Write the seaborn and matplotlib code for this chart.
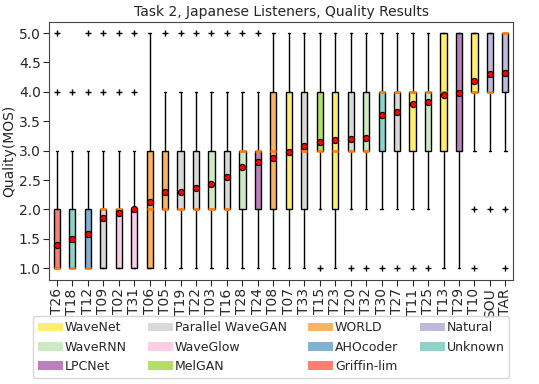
import matplotlib
matplotlib.use('Agg')
import matplotlib.pyplot as plt
from matplotlib.patches import Patch
import seaborn as sns

# Per-system listening test results (MOS, 1-5 scale)
systems = ['T26', 'T18', 'T12', 'T09', 'T02', 'T31', 'T06', 'T05', 'T19', 'T22',
           'T03', 'T16', 'T28', 'T24', 'T08', 'T07', 'T33', 'T15', 'T23', 'T20',
           'T32', 'T30', 'T27', 'T11', 'T25', 'T13', 'T29', 'T10', 'SOU', 'TAR']
vocoder = ['Griffin-lim', 'Unknown', 'AHOcoder', 'Parallel WaveGAN', 'WaveGlow', 'WaveGlow',
           'WORLD', 'WORLD', 'Parallel WaveGAN', 'Parallel WaveGAN', 'WaveRNN',
           'Parallel WaveGAN', 'WaveRNN', 'LPCNet', 'WORLD', 'WaveNet', 'Parallel WaveGAN',
           'MelGAN', 'WaveNet', 'Parallel WaveGAN', 'WaveRNN', 'Unknown', 'Parallel WaveGAN',
           'WaveNet', 'WaveRNN', 'WaveNet', 'LPCNet', 'WaveNet', 'Natural', 'Natural']
q1 = [1, 1, 1, 1, 1, 1, 1, 2, 2, 2, 2, 2, 2, 2, 2, 2, 2, 3, 2, 3, 3, 3, 3, 3, 3, 3, 3, 4, 4, 4]
median = [1, 1, 1, 2, 2, 2, 2, 2, 2, 2, 2, 2, 3, 3, 3, 3, 3, 3, 3, 3, 3, 4, 4, 4, 4, 4, 4, 4, 4, 5]
q3 = [2, 2, 2, 2, 2, 2, 3, 3, 3, 3, 3, 3, 3, 3, 4, 4, 4, 4, 4, 4, 4, 4, 4, 4, 4, 5, 5, 5, 5, 5]
whislo = [1, 1, 1, 1, 1, 1, 1, 1, 1, 1, 1, 1, 1, 1, 1, 1, 1, 2, 1, 2, 2, 2, 2, 2, 2, 1, 1, 3, 3, 3]
whishi = [3, 3, 3, 3, 3, 3, 5, 4, 4, 4, 4, 4, 4, 4, 5, 5, 5, 5, 5, 5, 5, 5, 5, 5, 5, 5, 5, 5, 5, 5]
fliers = [[4, 5], [4], [4, 5], [4, 5], [4, 5], [4, 5], [], [5], [5], [5],
          [5], [5], [5], [5], [], [], [], [1], [], [1],
          [1], [1], [1], [1], [1], [], [], [1, 2], [2], [1, 2]]
means = [1.40, 1.49, 1.58, 1.86, 1.94, 2.00, 2.13, 2.30, 2.30, 2.36,
         2.43, 2.55, 2.72, 2.80, 2.88, 2.98, 3.08, 3.15, 3.18, 3.20,
         3.21, 3.61, 3.66, 3.80, 3.82, 3.94, 3.98, 4.18, 4.30, 4.32]

legend_order = ['WaveNet', 'WaveRNN', 'LPCNet', 'Parallel WaveGAN', 'WaveGlow', 'MelGAN',
                'WORLD', 'AHOcoder', 'Griffin-lim', 'Natural', 'Unknown']
colors = {'WaveNet': '#ffed6f', 'WaveRNN': '#ccebc5', 'LPCNet': '#bc80bd',
          'Parallel WaveGAN': '#d9d9d9', 'WaveGlow': '#fccde5', 'MelGAN': '#b3de69',
          'WORLD': '#fdb462', 'AHOcoder': '#80b1d3', 'Griffin-lim': '#fb8072',
          'Natural': '#bebada', 'Unknown': '#8dd3c7'}

sns.set_style('ticks')

fig = plt.figure(figsize=(5.39, 3.84), dpi=100)
ax = fig.add_axes([0.091, 0.271, 0.861, 0.672])

stats = []
for i, name in enumerate(systems):
    stats.append({'label': name, 'q1': q1[i], 'med': median[i], 'q3': q3[i],
                  'whislo': whislo[i], 'whishi': whishi[i], 'fliers': fliers[i]})

positions = list(range(1, len(systems) + 1))
bp = ax.bxp(stats, positions=positions, widths=0.4, patch_artist=True,
            capwidths=0.15,
            boxprops=dict(edgecolor='black', linewidth=1),
            whiskerprops=dict(color='black', linewidth=1),
            capprops=dict(color='black', linewidth=1),
            medianprops=dict(color='#ff7f0e', linewidth=2),
            flierprops=dict(marker='+', markeredgecolor='black', markersize=4))
for patch, voc in zip(bp['boxes'], vocoder):
    patch.set_facecolor(colors[voc])

sns.scatterplot(x=positions, y=means, ax=ax, color='red', edgecolor='black',
                linewidth=0.8, s=20, zorder=5, legend=False)

ax.set_xlim(0.5, len(systems) + 0.5)
ax.set_ylim(0.8, 5.19)
ax.set_yticks([1.0, 1.5, 2.0, 2.5, 3.0, 3.5, 4.0, 4.5, 5.0])
ax.set_yticklabels(['1.0', '1.5', '2.0', '2.5', '3.0', '3.5', '4.0', '4.5', '5.0'])
ax.set_xticks(positions)
ax.set_xticklabels(systems, rotation=90)
ax.tick_params(labelsize=10, length=4)
ax.tick_params(axis='y', pad=2)
ax.tick_params(axis='x', pad=2)
ax.set_ylabel('Quality(MOS)', fontsize=10, labelpad=2)
ax.set_title('Task 2, Japanese Listeners, Quality Results', fontsize=10, pad=4)
for s in ax.spines.values():
    s.set_visible(True)
    s.set_color('#444444')

handles = [Patch(facecolor=colors[v], edgecolor='none', label=v) for v in legend_order]
fig.legend(handles=handles, ncol=4, loc='upper center', bbox_to_anchor=(0.503, 0.176),
           fontsize=9, handlelength=2.0, handletextpad=0.15, columnspacing=1.7,
           borderaxespad=0, frameon=True)

fig.savefig('out.png', dpi=100)
